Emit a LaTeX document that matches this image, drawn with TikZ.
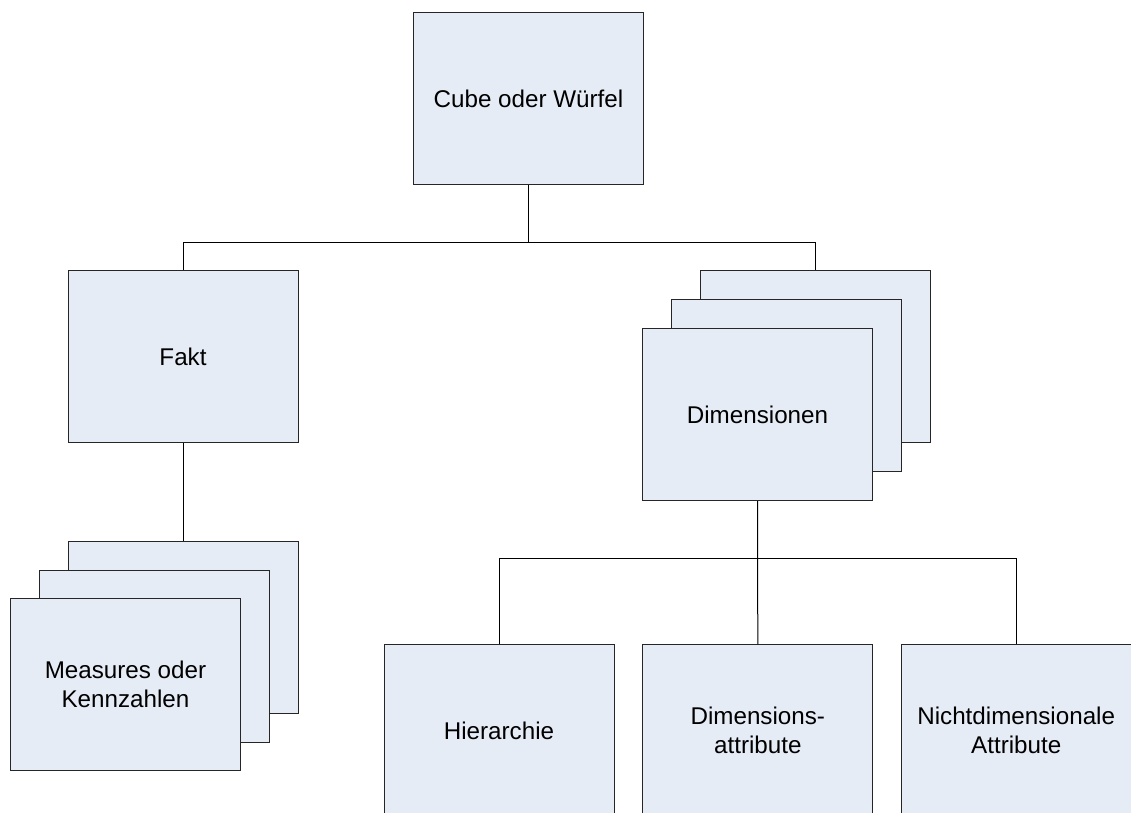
\documentclass[tikz,border=0pt]{standalone}
\usepackage{fontspec}
\setmainfont{Liberation Sans}
\begin{document}
\begin{tikzpicture}[x={(1pt,0)}, y={(0,-1pt)},
  box/.style={draw=black!85, fill=boxfill, line width=1pt, inner sep=0pt,
    minimum width=230pt, minimum height=172pt, anchor=north west,
    align=center, font=\fontsize{24.2}{28.5}\selectfont},
  link/.style={draw=black, line width=1pt}]
\definecolor{boxfill}{HTML}{E6ECF6}
\clip (0,0) rectangle (1131,812);
\fill[white] (0,0) rectangle (1131,812);

% root
\node[box] (cube) at (413,12) {Cube oder Würfel};

% fact branch
\node[box] (fakt) at (67.5,270) {Fakt};
\node[box] (meas3) at (67.5,541) {};
\node[box] (meas2) at (38.5,569.5) {};
\node[box] (meas1) at (10,598) {Measures oder\\Kennzahlen};

% dimension branch (stacked)
\node[box] (dim3) at (699.5,270) {};
\node[box] (dim2) at (671,299) {};
\node[box] (dim1) at (642,328) {Dimensionen};

% dimension parts
\node[box] (hier) at (383.5,644) {Hierarchie};
\node[box] (attr) at (642.3,644) {Dimensions-\\attribute};
\node[box] (ndim) at (900.7,644) {Nichtdimensionale\\Attribute};

% connectors
\draw[link] (cube.south) -- ++(0,57) -| (fakt.north);
\draw[link] (cube.south) -- ++(0,57) -| (dim3.north);
\draw[link] (fakt.south) -- (meas3.north);
\draw[link] (dim1.south) -- ++(0,57) -| (hier.north);
\draw[link] (dim1.south) -- (attr.north);
\draw[link] (dim1.south) -- ++(0,57) -| (ndim.north);
\end{tikzpicture}
\end{document}
